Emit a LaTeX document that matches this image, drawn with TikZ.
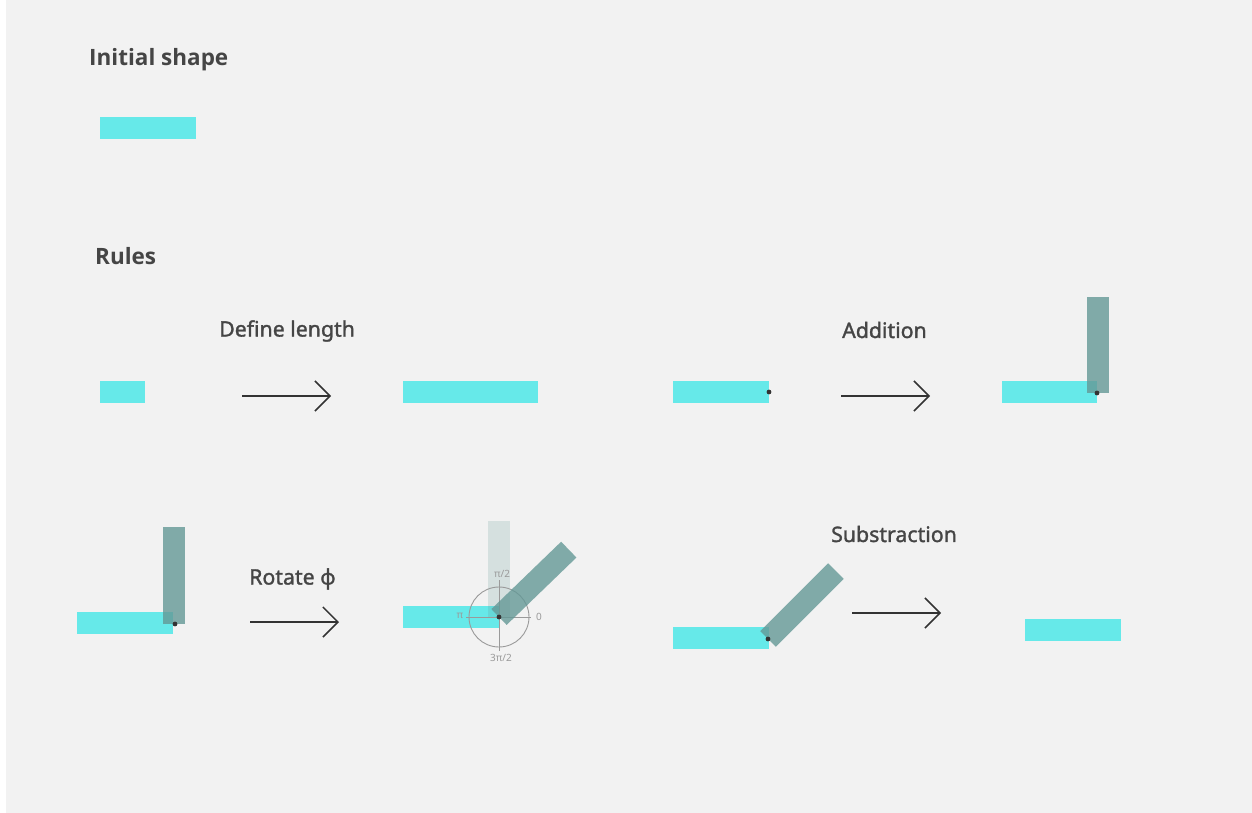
\documentclass[tikz,border=0pt]{standalone}
\usepackage{fontspec}
\usetikzlibrary{arrows.meta}
\newfontfamily\headfont{Open Sans}
\newfontfamily\labelfont{Noto Sans}[FakeBold=1.4]
\newfontfamily\mathlblfont{Noto Sans}
\definecolor{bgpanel}{HTML}{F2F2F2}
\definecolor{segcyan}{HTML}{66E9E9}
\definecolor{segteal}{RGB}{100,152,150}
\definecolor{inkdark}{HTML}{333333}
\definecolor{headgray}{HTML}{454545}
\definecolor{guidegray}{HTML}{9A9A9A}
\tikzset{
  seg/.style={fill=segcyan},
  turned/.style={fill=segteal, fill opacity=0.8},
  ghost/.style={fill=segteal, fill opacity=0.2},
  pivot/.style={fill=inkdark},
  heading/.style={anchor=west, inner sep=0pt, text=headgray, font=\headfont\bfseries\fontsize{22.5}{26}\selectfont},
  rulelabel/.style={anchor=west, inner sep=0pt, text=headgray, font=\labelfont\fontsize{21.3}{25}\selectfont},
  anglabel/.style={inner sep=0pt, text=guidegray, font=\mathlblfont\fontsize{10}{12}\selectfont},
  guide/.style={draw=guidegray, line width=0.9pt},
  rulearrow/.style={draw=inkdark, line width=1.5pt, -{Straight Barb[length=15pt,width=30pt,line width=1.5pt]}}
}
\begin{document}
\begin{tikzpicture}[x=1pt,y=-1pt]
\useasboundingbox (0,0) rectangle (1252,813);
\fill[bgpanel] (6,0) rectangle (1252,813);

% headings
\node[heading] (hinit) at (89,60) {Initial shape};
\node[heading] (hrules) at (95,256) {Rules};

% initial shape
\fill[seg] (100,117) rectangle (196,139);

% rule: define length
\fill[seg] (100,381) rectangle (145,403);
\node[rulelabel] (ldef) at (219,331) {Define length};
\coordinate (defA) at (242,396);
\coordinate (defB) at (331,396);
\draw[rulearrow] (defA) -- (defB);
\fill[seg] (403,381) rectangle (538,403);

% rule: addition
\fill[seg] (673,381) rectangle (769,403);
\fill[pivot] (769,392) circle (2.4);
\node[rulelabel] (ladd) at (842,330) {Addition};
\coordinate (addA) at (841,396);
\coordinate (addB) at (930,396);
\draw[rulearrow] (addA) -- (addB);
\fill[seg] (1002,381) rectangle (1097,403);
\fill[turned] (1087,297) rectangle (1109,393);
\fill[pivot] (1097,393) circle (2.4);

% rule: rotate
\fill[seg] (77,612) rectangle (173,634);
\fill[turned] (163,527) rectangle (185,624);
\fill[pivot] (175,624) circle (2.4);
\node[rulelabel] (lrot) at (249,579) {Rotate ϕ};
\coordinate (rotA) at (250,622);
\coordinate (rotB) at (339,622);
\draw[rulearrow] (rotA) -- (rotB);

\fill[seg] (403,606) rectangle (499,628);
\fill[ghost] (488,521) rectangle (510,617);
\coordinate (rc) at (499,617);
\draw[guide] (rc) circle (30);
\draw[guide] (466,617) -- (531,617);
\draw[guide] (499,580) -- (499,651);
\node[anglabel] (a90) at (502,574) {π/2};
\node[anglabel] (a180) at (460,616) {π};
\node[anglabel] (a0) at (539,617) {0};
\node[anglabel] (a270) at (501,658) {3π/2};
\begin{scope}[shift={(rc)}, rotate=44]
  \fill[turned] (0,-11) rectangle (97,11);
\end{scope}
\fill[pivot] (rc) circle (2.4);

% rule: substraction
\node[rulelabel] (lsub) at (831,534) {Substraction};
\fill[seg] (673,627) rectangle (769,649);
\coordinate (sc) at (768,639);
\begin{scope}[shift={(sc)}, rotate=45]
  \fill[turned] (0,-11) rectangle (96,11);
\end{scope}
\fill[pivot] (sc) circle (2.4);
\coordinate (subA) at (852,613);
\coordinate (subB) at (941,613);
\draw[rulearrow] (subA) -- (subB);
\fill[seg] (1025,619) rectangle (1121,641);
\end{tikzpicture}
\end{document}
